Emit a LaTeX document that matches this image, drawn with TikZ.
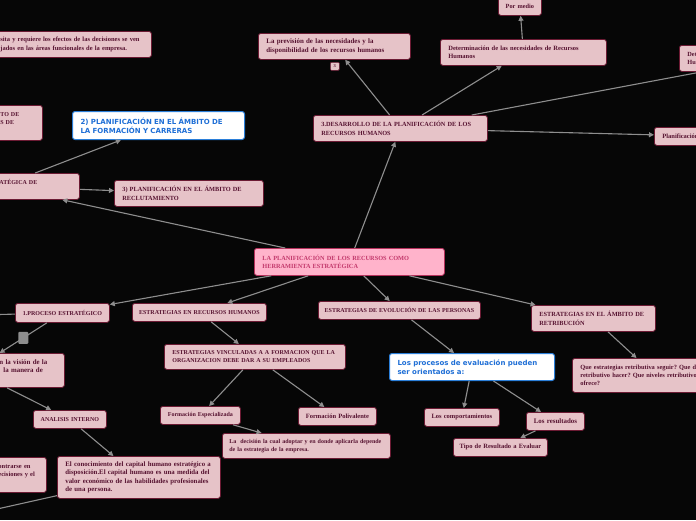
\documentclass[tikz,border=0pt]{standalone}
\usepackage{fontspec}
\setmainfont{Liberation Serif}
\newfontfamily\bluefont{DejaVu Sans}
\usetikzlibrary{arrows.meta}
\definecolor{mapbg}{HTML}{060606}
\definecolor{topicfill}{HTML}{E6C3C8}
\definecolor{topicline}{HTML}{6B1A33}
\definecolor{topictext}{HTML}{561230}
\definecolor{mainfill}{HTML}{FFB3CB}
\definecolor{mainline}{HTML}{B5305C}
\definecolor{maintext}{HTML}{C2386B}
\definecolor{blueline}{HTML}{2B7FD9}
\definecolor{bluetext}{HTML}{1F6FD6}
\definecolor{linkgray}{HTML}{8E8E8E}
\newcommand{\mapfont}[1]{\fontsize{#1}{8.2}\selectfont\bfseries\frenchspacing}

\begin{document}
\begin{tikzpicture}[x=1pt, y=-1pt, >={Triangle[length=5pt, width=5pt]},
  topic/.style={draw=topicline, fill=topicfill, text=topictext, line width=0.8pt, rounded corners=2.5pt, anchor=north west, inner xsep=8pt, inner ysep=0pt, align=left, font=\mapfont{6.5}},
  single/.style={align=center, inner xsep=3pt},
  caps/.style={font=\mapfont{6}},
  mainidea/.style={topic, draw=mainline, fill=mainfill, text=maintext, font=\mapfont{6.3}},
  bluebox/.style={topic, draw=blueline, fill=white, text=bluetext, line width=1pt, font=\bluefont\fontsize{7}{9}\selectfont\bfseries},
  handle/.style={fill=linkgray, minimum width=10pt, minimum height=12pt, inner sep=0pt, rounded corners=1pt},
  link/.style={draw=linkgray, line width=1.1pt}]
  \useasboundingbox (0,0) rectangle (696,520);
  \fill[mapbg] (0,0) rectangle (696,520);
  \clip (0,0) rectangle (696,520);

  \node[topic, text width=143pt, minimum height=26pt] (necesita) at (-8,31) {sita y requiere los efectos de las decisiones se ven\\jados en las áreas funcionales de la empresa.};
  \node[topic, caps, text width=34pt, minimum height=35pt] (ambito) at (-8,105) {TO DE\\S DE\\~};
  \node[bluebox, text width=156pt, minimum height=28pt] (formacion) at (72,111) {2) PLANIFICACIÓN EN EL ÁMBITO DE\\LA FORMACIÓN Y CARRERAS};
  \node[topic, caps, text width=142pt, minimum height=26pt] (estrategica) at (-79,173) {\hspace*{70pt}ATÉGICA DE\\~};
  \node[topic, font=\mapfont{6.3}, text width=133pt, minimum height=26pt] (reclutamiento) at (114,180) {3) PLANIFICACIÓN EN EL ÁMBITO DE\\RECLUTAMIENTO};
  \node[topic, font=\mapfont{6.9}, text width=136pt, minimum height=26pt] (prevision) at (258,33) {La previsión de las necesidades y la\\disponibilidad de los recursos humanos};
  \node[topic, single, font=\mapfont{4.5}, inner xsep=1pt, text width=7pt, minimum height=8pt, rounded corners=1pt, line width=0.6pt] (nota) at (330,62) {3};
  \node[topic, text width=150pt, minimum height=26pt] (necesidades) at (440,39) {Determinación de las necesidades de Recursos\\Humanos};
  \node[topic, single, font=\mapfont{6.3}, text width=37pt, minimum height=18pt] (pormedio) at (498,-3) {Por medio};
  \node[topic, font=\mapfont{6.3}, text width=172pt, minimum height=26pt] (detalle) at (679,45) {Det\\Hu};
  \node[topic, font=\mapfont{6.3}, text width=158pt, minimum height=26pt] (desarrollo) at (313,115) {3.DESARROLLO DE LA PLANIFICACIÓN DE LOS\\RECURSOS HUMANOS};
  \node[topic, text width=104pt, minimum height=18pt] (planif) at (654,127) {Planificación};
  \node[mainidea, text width=174pt, minimum height=27pt] (central) at (254,248) {LA PLANIFICACIÓN DE LOS RECURSOS COMO\\HERRAMIENTA ESTRATÉGICA};
  \node[topic, caps, single, text width=88pt, minimum height=19pt] (proceso) at (15,303) {1.PROCESO ESTRATÉGICO};
  \node[topic, caps, single, text width=128pt, minimum height=18pt] (estrhum) at (132,303) {ESTRATEGIAS EN RECURSOS HUMANOS};
  \node[topic, caps, single, text width=156pt, minimum height=18pt] (evolucion) at (318,301) {ESTRATEGIAS DE EVOLUCIÓN DE LAS PERSONAS};
  \node[topic, font=\mapfont{6.3}, text width=108pt, minimum height=26pt] (retribucion) at (531,305) {ESTRATEGIAS EN EL ÁMBITO DE\\RETRIBUCIÓN};
  \node[topic, caps, text width=165pt, minimum height=25pt] (vinculadas) at (164,344) {ESTRATEGIAS VINCULADAS A A FORMACION QUE LA\\ORGANIZACION DEBE DAR A SU EMPLEADOS};
  \node[bluebox, text width=149pt, minimum height=27pt] (evaluacion) at (389,353) {Los procesos de evaluación pueden\\ser orientados a:};
  \node[topic, font=\mapfont{6.4}, text width=150pt, minimum height=34pt] (preguntas) at (572,358) {Que estrategias retributiva seguir? Que di\\retributivo hacer? Que niveles retributivo\\ofrece?};
  \node[topic, font=\mapfont{6.9}, text width=168pt, minimum height=34pt] (vision) at (-120,353) {\hspace*{111pt}n la visión de la\\\hspace*{115pt}la manera de\\~};
  \node[topic, caps, single, text width=67pt, minimum height=18pt] (analisis) at (33,410) {ANALISIS INTERNO};
  \node[topic, single, font=\mapfont{6}, text width=74pt, minimum height=18pt] (especializada) at (160,406) {Formación Especializada};
  \node[topic, single, text width=72pt, minimum height=18pt] (polivalente) at (298,407) {Formación Polivalente};
  \node[topic, font=\mapfont{6}, inner xsep=7pt, text width=154pt, minimum height=25pt] (decision) at (222,433) {La\ \ decisión la cual adoptar y en donde aplicarla depende\\de la estrategia de la empresa.};
  \node[topic, font=\mapfont{6.8}, text width=147pt, minimum height=42pt] (conocimiento) at (57,456) {El conocimiento del capital humano estratégico a\\disposición.El capital humano es una medida del\\valor económico de las habilidades profesionales\\de una persona.};
  \node[topic, text width=40pt, minimum height=35pt] (encontrarse) at (-10,457) {ontrarse en\\ecisiones y el\\~};
  \node[topic, single, text width=69pt, minimum height=18pt] (comportamientos) at (424,408) {Los comportamientos};
  \node[topic, single, font=\mapfont{6.9}, text width=52pt, minimum height=18pt] (resultados) at (526,412) {Los resultados};
  \node[topic, single, text width=88pt, minimum height=18pt] (tipo) at (453,438) {Tipo de Resultado a Evaluar};
  \coordinate (haciaizq) at (-60,316);
  \coordinate (haciaabajo) at (-200,553);

  \draw[link, ->] (central) -- (estrategica);
  \draw[link, ->] (central) -- (desarrollo);
  \draw[link, ->] (central) -- (proceso);
  \draw[link, ->] (central) -- (estrhum);
  \draw[link, ->] (central) -- (evolucion);
  \draw[link, ->] (central) -- (retribucion);
  \draw[link, ->] (estrategica) -- (formacion);
  \draw[link, ->] (estrategica) -- (reclutamiento);
  \draw[link, ->] (desarrollo) -- (prevision);
  \draw[link, ->] (desarrollo) -- (necesidades);
  \draw[link, ->] (desarrollo) -- (detalle);
  \draw[link, ->] (desarrollo) -- (planif);
  \draw[link, ->] (necesidades) -- (pormedio);
  \draw[link] (proceso) -- (haciaizq);
  \draw[link, ->] (proceso) -- node[handle] {} (vision);
  \draw[link, ->] (vision) -- (analisis);
  \draw[link, ->] (analisis) -- (conocimiento);
  \draw[link, ->] (conocimiento) -- (haciaabajo);
  \draw[link, ->] (estrhum) -- (vinculadas);
  \draw[link, ->] (vinculadas) -- (especializada);
  \draw[link, ->] (vinculadas) -- (polivalente);
  \draw[link, ->] (especializada) -- (decision);
  \draw[link, ->] (evolucion) -- (evaluacion);
  \draw[link, ->] (evaluacion) -- (comportamientos);
  \draw[link, ->] (evaluacion) -- (resultados);
  \draw[link, ->] (resultados) -- (tipo);
  \draw[link, ->] (retribucion) -- (preguntas);
\end{tikzpicture}
\end{document}
